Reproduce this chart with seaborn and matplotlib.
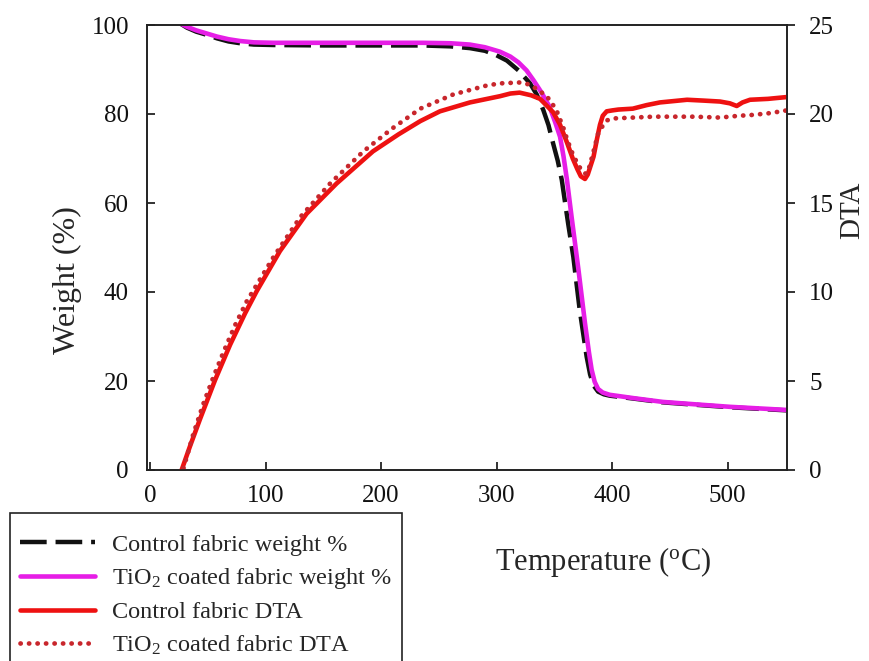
import matplotlib
matplotlib.use("Agg")
import matplotlib.pyplot as plt
import seaborn as sns
import pandas as pd

# ---- data -------------------------------------------------------------
# TGA weight loss, control fabric
ctrl_w_temp = [27, 32, 40, 49, 58, 68, 78, 90, 107, 150, 200, 236, 260, 277,
               290, 300, 309, 319, 329, 335, 340.5, 345, 349, 353, 356.5, 362,
               366.5, 372, 378, 381, 384, 388, 393, 398, 420, 444, 470, 502,
               530, 551]
ctrl_w_val = [100.2, 99.4, 98.5, 97.8, 97.0, 96.3, 95.9, 95.6, 95.5, 95.4,
              95.4, 95.4, 95.2, 94.8, 94.2, 93.2, 92.0, 89.8, 86.9, 84.3, 80.9,
              77.5, 73.4, 69.5, 65.2, 55.4, 47.9, 36.0, 25.5, 21.5, 19.0, 17.6,
              17.0, 16.7, 16.0, 15.2, 14.7, 14.1, 13.7, 13.4]

# TGA weight loss, TiO2 coated fabric
tio2_w_temp = [26, 32, 40, 49, 58, 68, 78, 90, 107, 150, 200, 236, 260, 277,
               290, 303, 312, 319, 326, 332, 339, 346, 351, 355, 358, 361, 365,
               371, 376.6, 380, 382.4, 385, 388, 392, 398, 420, 444, 470, 502,
               530, 551]
tio2_w_val = [100.4, 99.6, 98.8, 98.1, 97.4, 96.8, 96.4, 96.1, 96.0, 96.0,
              96.0, 96.0, 95.9, 95.6, 95.0, 94.0, 92.9, 91.6, 89.8, 87.6, 84.8,
              81.6, 78.0, 74.9, 70.5, 65.2, 56.9, 44.9, 33.0, 26.5, 22.5, 19.8,
              18.2, 17.4, 16.9, 16.1, 15.3, 14.8, 14.2, 13.8, 13.5]

# DTA, control fabric
ctrl_d_temp = [27.4, 34.6, 43.3, 56.3, 69.3, 82.3, 92.4, 112.5, 135.6, 161.6,
               193, 215, 234, 251, 277, 303, 312, 320, 330, 337.7, 343, 349,
               355, 361, 366, 370, 373, 376.6, 379, 384, 387, 389.6, 392, 395.4,
               400, 405.5, 418, 430, 441.5, 465, 480, 493.5, 502, 508, 513,
               519.5, 535, 551]
ctrl_d_val = [0.0, 1.33, 2.86, 5.05, 7.03, 8.8, 10.05, 12.3, 14.4, 16.1, 17.9,
              18.85, 19.6, 20.15, 20.65, 21.0, 21.15, 21.2, 21.05, 20.85, 20.5,
              20.1, 19.4, 18.4, 17.5, 16.9, 16.5, 16.35, 16.6, 17.6, 18.6, 19.4,
              19.9, 20.15, 20.2, 20.25, 20.3, 20.5, 20.65, 20.8, 20.75, 20.7,
              20.6, 20.45, 20.65, 20.8, 20.85, 20.95]

# DTA, TiO2 coated fabric
tio2_d_temp = [29, 37.5, 46.1, 54.8, 63.5, 73.6, 83.7, 106.8, 130, 156, 184.7,
               210, 234, 262.6, 291.5, 303, 320, 329, 336, 343.5, 348, 352, 358,
               361, 365, 369.4, 373, 376.6, 379, 384, 388, 392.5, 396, 401, 436,
               470, 493.5, 510, 522, 537, 551]
tio2_d_val = [0.1, 2.02, 3.7, 5.21, 6.61, 8.13, 9.47, 11.95, 14.2, 16.1, 17.9,
              19.2, 20.3, 21.1, 21.6, 21.72, 21.77, 21.65, 21.35, 21.0, 20.6,
              20.2, 19.2, 18.6, 17.9, 17.3, 16.9, 16.65, 16.7, 17.9, 18.9, 19.4,
              19.65, 19.75, 19.85, 19.85, 19.8, 19.9, 19.95, 20.05, 20.2]

weight_ticks = [0, 20, 40, 60, 80, 100]
dta_ticks = [0, 5, 10, 15, 20, 25]
temp_ticks = [0, 100, 200, 300, 400, 500]

labels = ["Control fabric weight %",
          r"TiO$_2$ coated fabric weight %",
          "Control fabric DTA",
          r"TiO$_2$ coated fabric DTA"]

# ---- style ------------------------------------------------------------
sns.set_style("ticks")
plt.rcParams["font.family"] = ["Liberation Serif", "DejaVu Serif"]
plt.rcParams["mathtext.fontset"] = "custom"
plt.rcParams["mathtext.rm"] = "Liberation Serif"
plt.rcParams["mathtext.it"] = "Liberation Serif:italic"
plt.rcParams["mathtext.bf"] = "Liberation Serif:bold"

C_BLACK = "#111111"
C_MAGENTA = "#E61EE6"
C_RED = "#EE1111"
C_DOT = "#C8262C"

fig = plt.figure(figsize=(8.69, 6.61), dpi=100)
ax = fig.add_axes([147 / 869, 1 - 470 / 661, 640 / 869, 445 / 661])
ax2 = ax.twinx()

df_cw = pd.DataFrame({"T": ctrl_w_temp, "v": ctrl_w_val})
df_tw = pd.DataFrame({"T": tio2_w_temp, "v": tio2_w_val})
df_cd = pd.DataFrame({"T": ctrl_d_temp, "v": ctrl_d_val})
df_td = pd.DataFrame({"T": tio2_d_temp, "v": tio2_d_val})

sns.lineplot(data=df_cw, x="T", y="v", ax=ax, color=C_BLACK, lw=3.2,
             estimator=None, sort=False, label=labels[0])
sns.lineplot(data=df_tw, x="T", y="v", ax=ax, color=C_MAGENTA, lw=3.3,
             estimator=None, sort=False, label=labels[1])
ax.lines[0].set_dashes((6.0, 2.0))

sns.lineplot(data=df_cd, x="T", y="v", ax=ax2, color=C_RED, lw=3.3,
             estimator=None, sort=False, label=labels[2])
sns.lineplot(data=df_td, x="T", y="v", ax=ax2, color=C_DOT, lw=3.4,
             estimator=None, sort=False, label=labels[3])
ax2.lines[1].set_dashes((0.05, 1.75))
ax2.lines[1].set_dash_capstyle("round")

for a in (ax, ax2):
    lg = a.get_legend()
    if lg is not None:
        lg.remove()
    for ln in a.lines:
        ln.set_solid_joinstyle("round")
        ln.set_dash_joinstyle("round")

# ---- axes -------------------------------------------------------------
ax.set_xlim(-2.6, 551.5)
ax.set_ylim(0, 100)
ax2.set_ylim(0, 25)
ax.set_xticks(temp_ticks)
ax.set_yticks(weight_ticks)
ax2.set_yticks(dta_ticks)

for a in (ax, ax2):
    for s in a.spines.values():
        s.set_linewidth(1.2)
        s.set_color("#222222")

ax.tick_params(axis="x", direction="in", length=6, width=1.2, pad=11,
               labelsize=18, colors="#111111")
ax.tick_params(axis="y", direction="in", length=6, width=1.2, pad=13,
               labelsize=18, colors="#111111")
ax2.tick_params(axis="y", direction="out", length=6, width=1.2, pad=10,
                labelsize=18, colors="#111111")

ax.set_xlabel(r"Temperature ($^{\mathrm{o}}$C)", fontsize=22, va="center")
ax.xaxis.set_label_coords(0.7125, -0.2067)
ax.set_ylabel("Weight (%)", fontsize=23, va="center")
ax.yaxis.set_label_coords(-0.125, 0.427)
ax2.set_ylabel("DTA", fontsize=21, va="center")
ax2.yaxis.set_label_coords(1.1016, 0.584)

# ---- legend -----------------------------------------------------------
handles = ax.lines[:2] + ax2.lines[:2]
leg = fig.legend(handles, labels, loc="upper left",
                 bbox_to_anchor=(10 / 869, 1 - 513 / 661),
                 bbox_transform=fig.transFigure, borderaxespad=0,
                 fontsize=17.5, frameon=True, fancybox=False, framealpha=1,
                 edgecolor="#222222", handlelength=3.1, handletextpad=0.7,
                 labelspacing=0.42, borderpad=0.4,
                 title=" ", title_fontsize=1)
leg.get_frame().set_linewidth(1.2)

fig.savefig("out.png", dpi=100)
